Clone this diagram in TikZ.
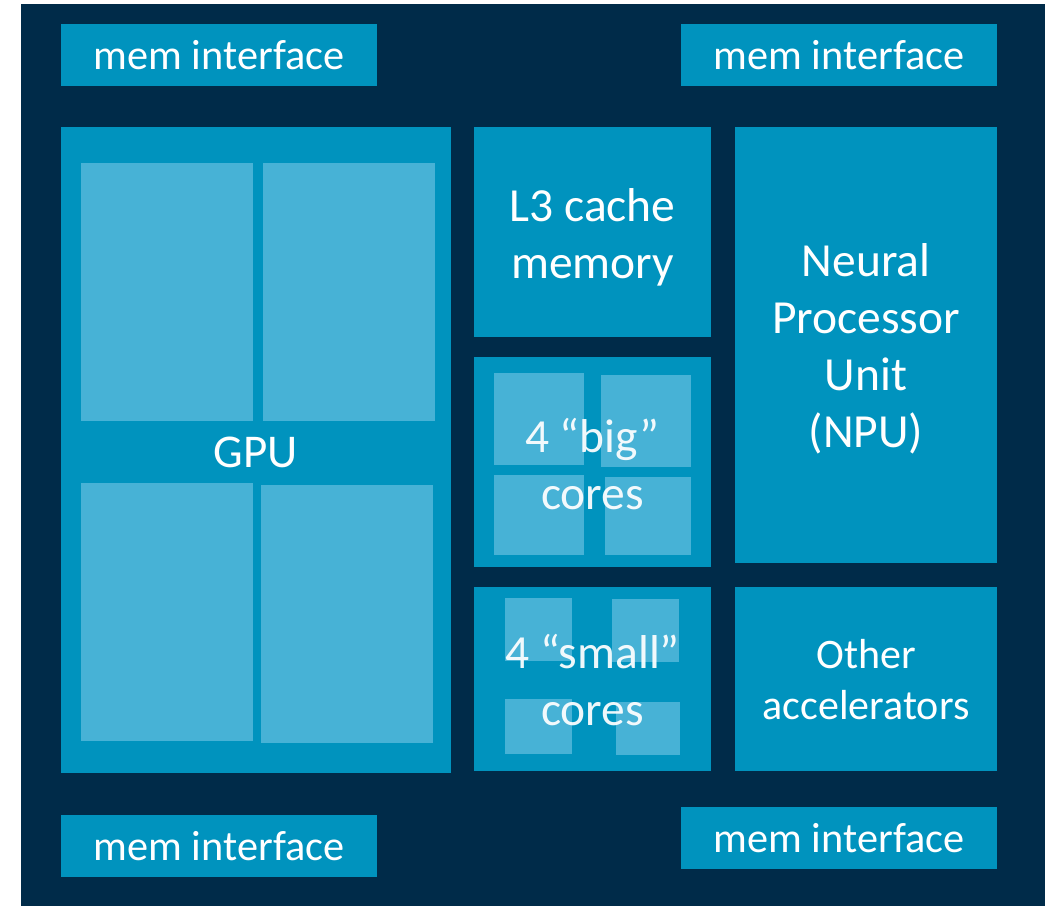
\documentclass[tikz,border=0pt]{standalone}
\usepackage{fontspec}
\setmainfont{Carlito}
\definecolor{navy}{RGB}{0,43,73}
\definecolor{chipblue}{RGB}{0,147,190}
\definecolor{unitblue}{RGB}{71,178,214}
\tikzset{
  blk/.style={fill=chipblue, draw=none, inner sep=0pt, outer sep=0pt, anchor=center},
  unit/.style={fill=unitblue, draw=none, inner sep=0pt, outer sep=0pt, anchor=center},
  lbl/.style={text=white, align=center, inner sep=0pt, font=\fontsize{47.5}{57}\selectfont},
  memlbl/.style={text=white, inner sep=0pt, font=\fontsize{42.3}{50}\selectfont},
}
\begin{document}
\begin{tikzpicture}[x=1pt, y=-1pt]
\useasboundingbox (0,0) rectangle (1051,906);
% die background
\fill[navy] (21,4) rectangle (1045,906);

% memory interfaces
\node[blk, minimum width=316pt, minimum height=62pt] (memTL) at (219,55) {};
\node[blk, minimum width=316pt, minimum height=62pt] (memTR) at (839,55) {};
\node[blk, minimum width=316pt, minimum height=62pt] (memBL) at (219,846) {};
\node[blk, minimum width=316pt, minimum height=62pt] (memBR) at (839,838) {};
\foreach \m in {memTL,memTR,memBL,memBR}
  \node[memlbl] at (\m.center) {mem interface};

% main blocks
\node[blk, minimum width=390pt, minimum height=646pt] (gpu) at (256,450) {};
\node[blk, minimum width=237pt, minimum height=210pt] (l3) at (592.5,232) {};
\node[blk, minimum width=237pt, minimum height=210pt] (big) at (592.5,462) {};
\node[blk, minimum width=237pt, minimum height=184pt] (small) at (592.5,679) {};
\node[blk, minimum width=262pt, minimum height=436pt] (npu) at (866,345) {};
\node[blk, minimum width=262pt, minimum height=184pt] (acc) at (866,679) {};

% GPU shader clusters
\node[unit, minimum width=172pt, minimum height=258pt] (g1) at (167,292) {};
\node[unit, minimum width=172pt, minimum height=258pt] (g2) at (349,292) {};
\node[unit, minimum width=172pt, minimum height=258pt] (g3) at (167,612) {};
\node[unit, minimum width=172pt, minimum height=258pt] (g4) at (347,614) {};

% big cores
\node[unit, minimum width=90pt, minimum height=92pt] (b1) at (539,419) {};
\node[unit, minimum width=90pt, minimum height=92pt] (b2) at (646,421) {};
\node[unit, minimum width=90pt, minimum height=80pt] (b3) at (539,515) {};
\node[unit, minimum width=86pt, minimum height=78pt] (b4) at (648,516) {};

% small cores
\node[unit, minimum width=67pt, minimum height=63pt] (s1) at (538.5,629.5) {};
\node[unit, minimum width=67pt, minimum height=63pt] (s2) at (645.5,630.5) {};
\node[unit, minimum width=67pt, minimum height=55pt] (s3) at (538.5,726.5) {};
\node[unit, minimum width=64pt, minimum height=53pt] (s4) at (648,728.5) {};

% labels
\node[lbl, font=\fontsize{47}{57}\selectfont] at ([yshift=-2pt]gpu.center) {GPU};
\node[lbl] at ([yshift=-5pt]l3.center) {L3 cache\\memory};
\node[lbl, opacity=0.93] at ([yshift=-2pt]big.center) {4 “big”\\cores};
\node[lbl, opacity=0.93] at ([yshift=-1pt]small.center) {4 “small”\\cores};
\node[lbl] at ([yshift=-4pt]npu.center) {Neural\\Processor\\Unit\\(NPU)};
\node[lbl, font=\fontsize{42}{51}\selectfont] at ([yshift=-1pt]acc.center) {Other\\accelerators};
\end{tikzpicture}
\end{document}
